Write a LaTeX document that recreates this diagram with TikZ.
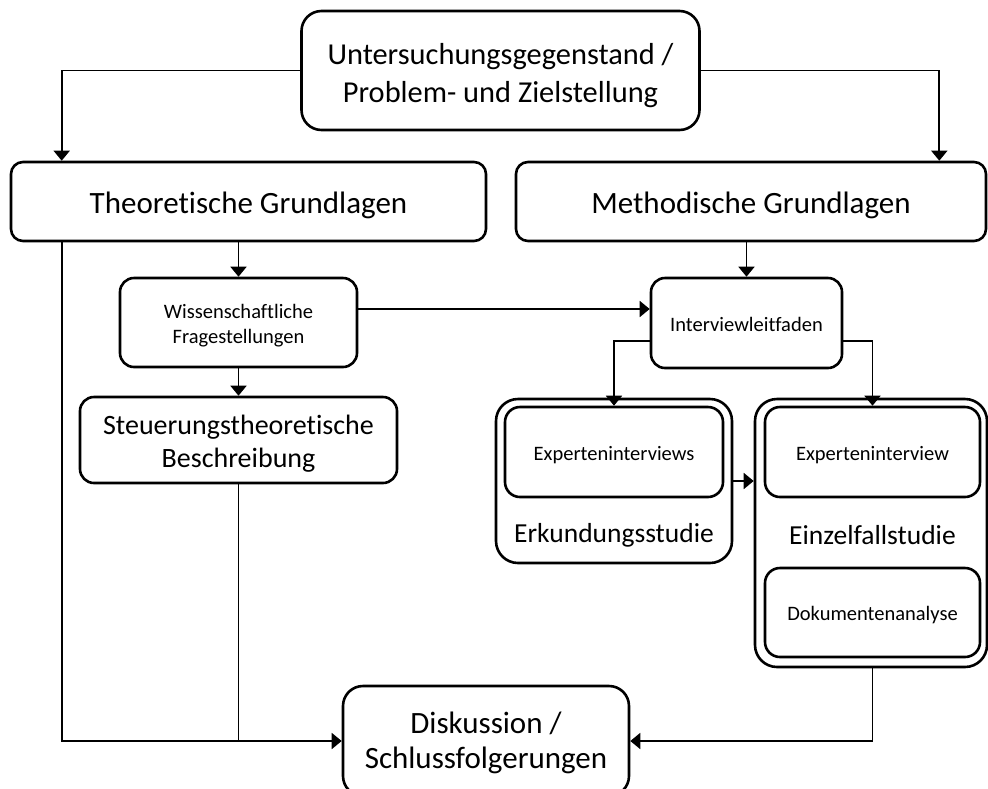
\documentclass[tikz,border=0pt]{standalone}
\usepackage{fontspec}
\setmainfont{Carlito}[Ligatures=NoCommon]
\usetikzlibrary{arrows.meta,calc}
\begin{document}
\begin{tikzpicture}[x=1pt,y=-1pt,
  box/.style={draw=black,line width=2.6pt,rounded corners=#1,inner sep=0pt},
  box/.default=13pt,
  txt/.style={align=center,inner sep=0pt},
  toptxt/.style={txt,font=\fontsize{30.4}{38}\selectfont},
  bigtxt/.style={txt,font=\fontsize{31}{35.5}\selectfont},
  midtxt/.style={txt,font=\fontsize{28}{33}\selectfont},
  labtxt/.style={txt,font=\fontsize{27.5}{33}\selectfont},
  smalltxt/.style={txt,font=\fontsize{20.5}{25}\selectfont},
  conn/.style={draw=black,line width=1.7pt},
  arr/.style={conn,-{Triangle[width=16pt,length=10pt]}}
]
\useasboundingbox (0,0) rectangle (988,788);

% main boxes
\node[box=20pt,minimum width=398pt,minimum height=119pt] (top) at (500.5,70.5) {};
\node[toptxt] (topt) at ([yshift=-5pt]top.center) {Untersuchungsgegenstand /\\Problem- und Zielstellung};
\node[box=12pt,minimum width=475pt,minimum height=79pt] (theo) at (248.5,201.5) {};
\node[bigtxt] (theot) at ([yshift=-4pt]theo.center) {Theoretische Grundlagen};
\node[box=12pt,minimum width=470pt,minimum height=79pt] (meth) at (751,201.5) {};
\node[bigtxt] (metht) at ([yshift=-4pt]meth.center) {Methodische Grundlagen};
\node[box=14pt,minimum width=237pt,minimum height=89pt] (wiss) at (238.5,322.5) {};
\node[smalltxt] (wisst) at ([yshift=-3pt]wiss.center) {Wissenschaftliche\\Fragestellungen};
\node[box=14pt,minimum width=317pt,minimum height=86pt] (steu) at (238.5,440) {};
\node[midtxt] (steut) at ([yshift=-3.5pt]steu.center) {Steuerungstheoretische\\Beschreibung};
\node[box=14pt,minimum width=191pt,minimum height=90pt] (iv) at (746.5,323) {};
\node[smalltxt] (ivt) at ([yshift=-1.5pt]iv.center) {Interviewleitfaden};

% Erkundungsstudie group
\node[box=22pt,minimum width=236pt,minimum height=164pt] (erk) at (614,481) {};
\node[box=15pt,minimum width=218pt,minimum height=90pt] (ekin) at (614,452) {};
\node[smalltxt] (ekint) at ([yshift=-3pt]ekin.center) {Experteninterviews};
\node[labtxt] (erklab) at (614,535) {Erkundungsstudie};

% Einzelfallstudie group
\node[box=22pt,minimum width=232pt,minimum height=268pt] (ein) at (871,533) {};
\node[box=15pt,minimum width=215pt,minimum height=90pt] (eexp) at (872.5,452) {};
\node[smalltxt] (eexpt) at ([yshift=-3pt]eexp.center) {Experteninterview};
\node[labtxt] (einlab) at (872.5,535) {Einzelfallstudie};
\node[box=15pt,minimum width=215pt,minimum height=89pt] (dok) at (872.5,612.5) {};
\node[smalltxt] (dokt) at ([yshift=-3pt]dok.center) {Dokumentenanalyse};

% Diskussion
\node[box=20pt,minimum width=286pt,minimum height=110pt] (disk) at (486,741) {};
\node[bigtxt] (diskt) at ([yshift=-2pt]disk.center) {Diskussion /\\Schlussfolgerungen};

% connectors
\coordinate (tl) at ([xshift=52pt]theo.north west);
\coordinate (tr) at ([xshift=-48pt]meth.north east);
\draw[arr] (top.west) -| (tl);
\draw[arr] (top.east) -| (tr);
\draw[arr] (wiss.north |- theo.south) -- (wiss.north);
\draw[arr] (wiss.south) -- (steu.north);
\draw[arr] (iv.north |- meth.south) -- (iv.north);
\draw[arr] ([yshift=13.5pt]wiss.east) -- ([yshift=13.5pt]wiss.east -| iv.west);
\draw[arr] ([yshift=-18pt]iv.west) -| (ekin.north);
\draw[arr] ([yshift=-18pt]iv.east) -| (eexp.north);
\draw[arr] (erk.east) -- (erk.east -| ein.west);
\draw[arr] ([xshift=52pt]theo.south west) |- (disk.west);
\draw[conn] (steu.south) -- (steu.south |- disk.west);
\draw[arr] (ein.south -| eexp.south) |- (disk.east);
\end{tikzpicture}
\end{document}
